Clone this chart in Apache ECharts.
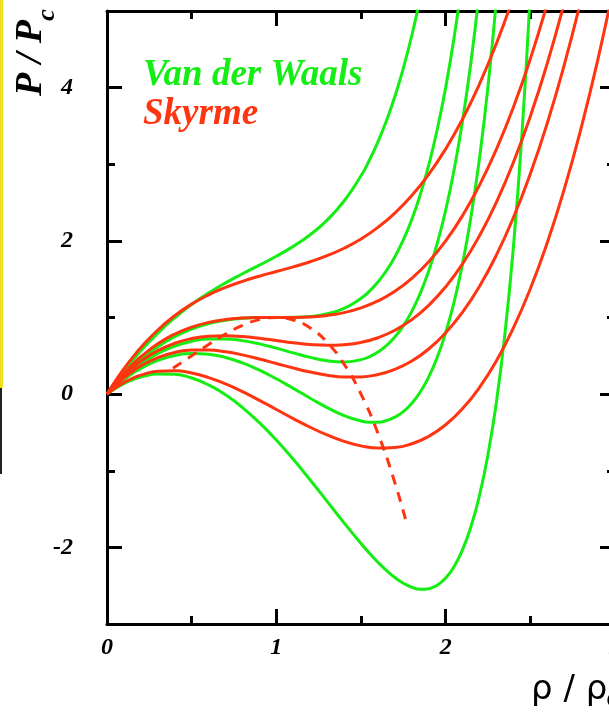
<!DOCTYPE html>
<html>
<head>
<meta charset="utf-8">
<script src="https://cdn.jsdelivr.net/npm/echarts@6/dist/echarts.min.js"></script>
<style>
html,body{margin:0;padding:0;background:#fff;}
#chart{width:609px;height:712px;}
</style>
</head>
<body>
<div id="chart"></div>
<script>
// ---- Van der Waals isotherms (green): rho/rho_c grid and P/P_c values ----
const vdwRho = [0,0.05,0.1,0.15,0.2,0.3,0.4,0.5,0.6,0.7,0.8,0.9,1.0,1.1,1.2,1.3,1.4,1.5,1.55,1.6,1.65,1.7,1.75,1.8,1.85,1.9,1.95,2.0,2.05,2.1,2.15,2.2,2.25,2.3,2.35,2.4,2.45,2.5];
const vdwPT12 = [0,0.155,0.301,0.438,0.566,0.797,0.997,1.17,1.32,1.452,1.571,1.684,1.8,1.928,2.08,2.271,2.52,2.85,3.055,3.291,3.566,3.884,4.253,4.68,5.176];
const vdwPT10 = [0,0.128,0.246,0.354,0.451,0.619,0.751,0.85,0.92,0.965,0.989,0.999,1.0,1.002,1.013,1.048,1.12,1.25,1.344,1.463,1.61,1.792,2.013,2.28,2.602,2.988,3.45,4.0,4.656,5.437];
const vdwPT09 = [0,0.115,0.218,0.311,0.394,0.53,0.628,0.69,0.72,0.721,0.698,0.656,0.6,0.538,0.48,0.436,0.42,0.45,0.489,0.549,0.633,0.745,0.893,1.08,1.315,1.606,1.964,2.4,2.929,3.57,4.344,5.28];
const vdwPT08 = [0,0.101,0.191,0.269,0.337,0.441,0.505,0.53,0.52,0.478,0.407,0.313,0.2,0.075,-0.053,-0.176,-0.28,-0.35,-0.366,-0.366,-0.345,-0.301,-0.228,-0.12,0.028,0.225,0.478,0.8,1.203,1.703,2.321,3.08,4.013,5.159];
const vdwPT06 = [0,0.074,0.136,0.185,0.223,0.263,0.258,0.21,0.12,-0.009,-0.175,-0.373,-0.6,-0.851,-1.12,-1.399,-1.68,-1.95,-2.076,-2.194,-2.301,-2.393,-2.468,-2.52,-2.546,-2.539,-2.493,-2.4,-2.25,-2.03,-1.726,-1.32,-0.788,-0.099,0.786,1.92,3.374,5.25];

// ---- Skyrme isotherms (red) ----
const skRho  = [0,0.05,0.1,0.15,0.2,0.3,0.4,0.5,0.6,0.7,0.8,0.9,1.0,1.1,1.2,1.3,1.4,1.5,1.6,1.7,1.8,1.9,2.0,2.1,2.2,2.3,2.4,2.5,2.6,2.7,2.8,2.9,3.0];
const skPT12 = [0,0.173,0.331,0.476,0.608,0.837,1.024,1.175,1.296,1.393,1.472,1.539,1.6,1.661,1.728,1.807,1.904,2.025,2.176,2.363,2.592,2.869,3.2,3.591,4.048,4.577,5.184];
const skPT10 = [0,0.143,0.271,0.386,0.488,0.657,0.784,0.875,0.936,0.973,0.992,0.999,1.0,1.001,1.008,1.027,1.064,1.125,1.216,1.343,1.512,1.729,2.0,2.331,2.728,3.197,3.744,4.375,5.096];
const skPT09 = [0,0.128,0.241,0.341,0.428,0.567,0.664,0.725,0.756,0.763,0.752,0.729,0.7,0.671,0.648,0.637,0.644,0.675,0.736,0.833,0.972,1.159,1.4,1.701,2.068,2.507,3.024,3.625,4.316,5.103];
const skPT08 = [0,0.113,0.211,0.296,0.368,0.477,0.544,0.575,0.576,0.553,0.512,0.459,0.4,0.341,0.288,0.247,0.224,0.225,0.256,0.323,0.432,0.589,0.8,1.071,1.408,1.817,2.304,2.875,3.536,4.293,5.152];
const skPT06 = [0,0.083,0.151,0.206,0.248,0.297,0.304,0.275,0.216,0.133,0.032,-0.081,-0.2,-0.319,-0.432,-0.533,-0.616,-0.675,-0.704,-0.697,-0.648,-0.551,-0.4,-0.189,0.088,0.437,0.864,1.375,1.976,2.673,3.472,4.379,5.4];

// ---- dashed red curve ----
const spinRho = [0.39,0.45,0.5,0.6,0.7,0.8,0.9,1.0,1.1,1.2,1.3,1.4,1.5,1.6,1.7,1.775];
const spinP   = [0.338,0.425,0.5,0.648,0.784,0.896,0.972,1.0,0.968,0.864,0.676,0.392,0,-0.512,-1.156,-1.733];

// ---- axes / labels ----
const xTicks = [0,1,2,3];
const yMajor = [-2,0,2,4];
const yMinor = [-1,1,3];
const legendNames = ['Van der Waals','Skyrme'];

const GREEN = '#14ee14';
const RED = '#ff3410';
const SERIF = '"Liberation Serif", "Times New Roman", serif';

function pairs(xs, ys){ return ys.map((y,i)=>[xs[i], y]); }

function lineSeries(xs, ys, color, dashed){
  return {
    type:'line', data: pairs(xs, ys), showSymbol:false, symbol:'none',
    smooth:0.5, clip:true,
    xAxisIndex:0, yAxisIndex:0, silent:true,
    lineStyle:{color:color, width:3, type: dashed ? [10,8] : 'solid'}
  };
}

const tickStyle = {color:'#000', width:3};
const labelFont = {fontFamily:SERIF, fontStyle:'italic', fontWeight:'bold', fontSize:24, color:'#000'};

function xAx(pos, showLabel){
  return {
    type:'value', min:0, max:3, interval:1, position:pos,
    axisLine:{show:true, onZero:false, lineStyle:{color:'#000', width:3}},
    axisTick:{show:true, inside:true, length:15, lineStyle:tickStyle},
    minorTick:{show:true, splitNumber:2, length:8, lineStyle:tickStyle},
    splitLine:{show:false}, minorSplitLine:{show:false},
    axisLabel: showLabel ? Object.assign({margin:12, customValues:xTicks, showMaxLabel:true}, labelFont) : {show:false}
  };
}
function yAx(pos, major, showLine, showLabel){
  return {
    type:'value', min:-3, max:5, position:pos,
    axisLine:{show:showLine, onZero:false, lineStyle:{color:'#000', width:3}},
    axisTick:{show:true, inside:true, length: major ? 15 : 8, customValues: major ? yMajor : yMinor, lineStyle:tickStyle},
    splitLine:{show:false},
    axisLabel: showLabel ? Object.assign({margin:34, customValues:yMajor}, labelFont) : {show:false}
  };
}

const chart = echarts.init(document.getElementById('chart'), null, {renderer:'canvas'});
chart.setOption({
  animation:false,
  backgroundColor:'#fff',
  grid:{left:107, top:11, width:508, height:613, containLabel:false, outerBoundsMode:'none'},
  xAxis:[xAx('bottom', true), xAx('top', false)],
  yAxis:[yAx('left', true, true, true), yAx('left', false, false, false), yAx('right', true, true, false), yAx('right', false, false, false)],
  series:[
    lineSeries(vdwRho, vdwPT12, GREEN),
    lineSeries(vdwRho, vdwPT10, GREEN),
    lineSeries(vdwRho, vdwPT09, GREEN),
    lineSeries(vdwRho, vdwPT08, GREEN),
    lineSeries(vdwRho, vdwPT06, GREEN),
    lineSeries(skRho, skPT12, RED),
    lineSeries(skRho, skPT10, RED),
    lineSeries(skRho, skPT09, RED),
    lineSeries(skRho, skPT08, RED),
    lineSeries(skRho, skPT06, RED),
    lineSeries(spinRho, spinP, RED, true)
  ],
  graphic:[
    {type:'rect', shape:{x:0,y:0,width:3,height:388}, style:{fill:'#f0df1c'}, silent:true},
    {type:'rect', shape:{x:0,y:388,width:2,height:86}, style:{fill:'#222'}, silent:true},
    {type:'text', x:31, y:58, rotation:Math.PI/2, silent:true,
      style:{text:'P / P', font:'italic bold 38px ' + SERIF, fill:'#000', textAlign:'center', textVerticalAlign:'middle'}},
    {type:'text', x:47, y:15, rotation:Math.PI/2, silent:true,
      style:{text:'c', font:'italic bold 26px ' + SERIF, fill:'#000', textAlign:'center', textVerticalAlign:'middle'}},
    {type:'text', x:143, y:75, silent:true,
      style:{text:legendNames[0], font:'italic bold 37px ' + SERIF, fill:GREEN, textAlign:'left', textVerticalAlign:'middle'}},
    {type:'text', x:143, y:114, silent:true,
      style:{text:legendNames[1], font:'italic bold 37px ' + SERIF, fill:RED, textAlign:'left', textVerticalAlign:'middle'}},
    {type:'text', x:531, y:690, silent:true,
      style:{text:'ρ / ρ', font:'34px "DejaVu Sans"', fill:'#000', textAlign:'left', textVerticalAlign:'middle'}},
    {type:'text', x:606, y:701, silent:true,
      style:{text:'c', font:'24px "DejaVu Sans"', fill:'#000', textAlign:'left', textVerticalAlign:'middle'}}
  ]
});
</script>
</body>
</html>
